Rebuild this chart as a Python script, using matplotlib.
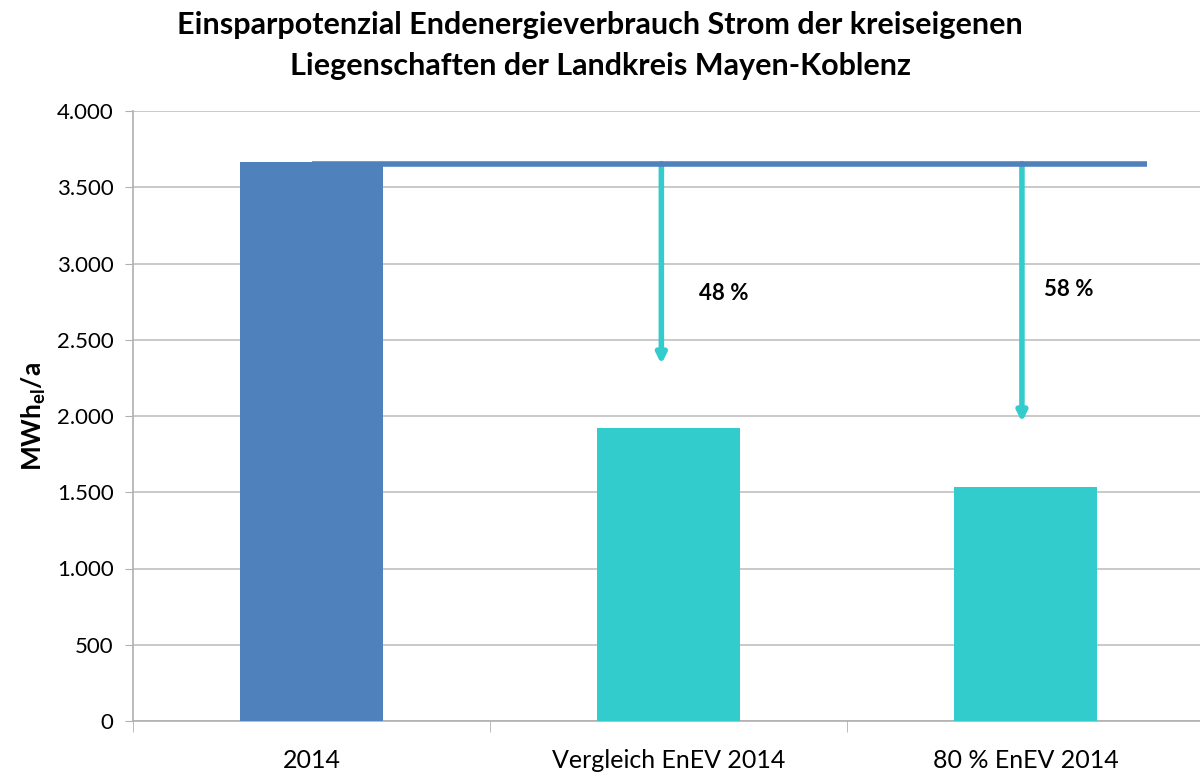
import matplotlib
matplotlib.use('Agg')
import matplotlib.pyplot as plt
from matplotlib.ticker import FuncFormatter, FixedLocator

plt.rcParams['font.family'] = ['Lato', 'DejaVu Sans']
plt.rcParams['mathtext.fontset'] = 'custom'
plt.rcParams['mathtext.bf'] = 'Lato:bold'

# Daten
kategorien = ['2014', 'Vergleich EnEV 2014', '80 % EnEV 2014']
werte = [3665, 1921, 1534]
farben = ['#4f81bd', '#33cccc', '#33cccc']

referenz = 3655          # horizontale Linie (Verbrauch 2014)
pfeil_x = [0.98, 1.99]
pfeil_ende = [2340, 1960]
pfeil_text = ['48 %', '58 %']
text_pos = [(1.155, 2800), (2.12, 2830)]

titel = ['Einsparpotenzial Endenergieverbrauch Strom der kreiseigenen',
         'Liegenschaften der Landkreis Mayen-Koblenz']

fig = plt.figure(figsize=(12, 7.78), dpi=100)
ax = fig.add_axes([133 / 1200, 57 / 778, 1071 / 1200, 610 / 778])

x = range(len(kategorien))
ax.bar(x, werte, width=0.4, color=farben, zorder=3)

# Referenzlinie
ax.plot([0, 2.34], [referenz, referenz], color='#4f81bd', lw=4, zorder=4,
        solid_capstyle='butt')

# Pfeile
for px, ende, txt, (tx, ty) in zip(pfeil_x, pfeil_ende, pfeil_text, text_pos):
    ax.annotate('', xy=(px, ende), xytext=(px, referenz),
                arrowprops=dict(arrowstyle='-|>', color='#33cccc', lw=4,
                                mutation_scale=14, shrinkA=0, shrinkB=0),
                zorder=3)
    ax.text(tx, ty, txt, fontsize=16, fontweight='bold', ha='center',
            va='center', zorder=5)

ax.set_xlim(-0.5, 2.5)
ax.set_ylim(0, 4000)
ax.set_yticks(range(0, 4001, 500))
ax.yaxis.set_major_formatter(FuncFormatter(lambda v, p: f'{int(v):,}'.replace(',', '.')))
ax.grid(axis='y', color='#c0c0c0', lw=1.2, zorder=0)

ax.set_xticks(list(x))
ax.set_xticklabels(kategorien, fontsize=18)
ax.xaxis.set_minor_locator(FixedLocator([-0.5, 0.5, 1.5, 2.5]))
ax.tick_params(axis='x', which='major', length=0, pad=20)
ax.tick_params(axis='x', which='minor', length=8, color='#b0b0b0')
ax.tick_params(axis='y', labelsize=16, length=6, color='#b0b0b0', pad=8)

for s in ['top', 'right']:
    ax.spines[s].set_visible(False)
for s in ['left', 'bottom']:
    ax.spines[s].set_color('#b0b0b0')
    ax.spines[s].set_linewidth(1.2)

ax.set_ylabel('MWh$_{\\mathbf{el}}$/a', fontsize=19, fontweight='bold', labelpad=6)

# Titel (zwei Zeilen)
fig.text(0.5, 1 - 25 / 778, titel[0], fontsize=22, fontweight='bold',
         ha='center', va='center')
fig.text(0.5, 1 - 66 / 778, titel[1], fontsize=22, fontweight='bold',
         ha='center', va='center')

fig.savefig('out.png', dpi=100)
